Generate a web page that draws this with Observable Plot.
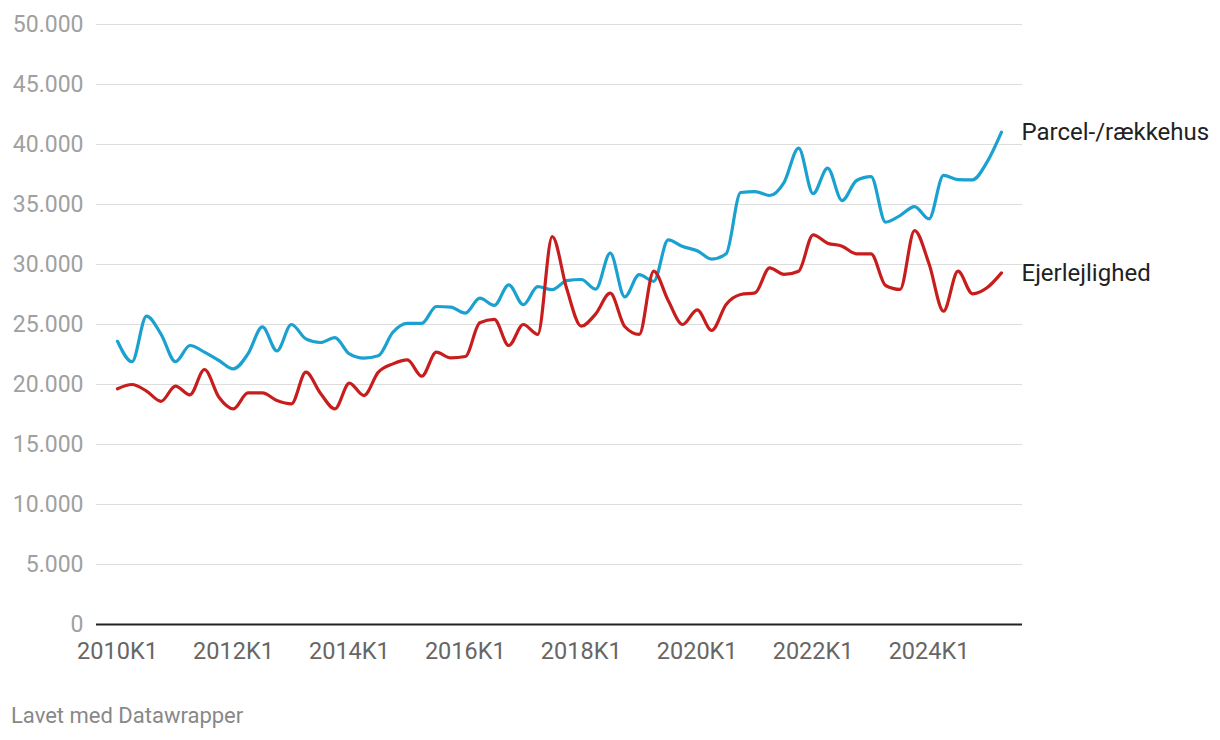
<!DOCTYPE html>
<html>
<head>
<meta charset="utf-8">
<script src="https://cdn.jsdelivr.net/npm/d3@7"></script>
<script src="https://cdn.jsdelivr.net/npm/@observablehq/plot@0.6"></script>
<style>
  body { margin: 0; background: #fff; font-family: Roboto, sans-serif; }
  #chart { position: absolute; left: 0; top: 0; }
  #footer { position: absolute; left: 11px; top: 703px; font-size: 22px; color: #888; font-family: Roboto, sans-serif; }
</style>
</head>
<body>
<div id="chart"></div>
<div id="footer">Lavet med Datawrapper</div>
<script>
const years = d3.range(2010, 2026);
const quarters = years.flatMap(y => [1, 2, 3, 4].map(q => `${y}K${q}`)).slice(0, 62);

const parcel = [23600,21900,25700,24200,21900,23250,22700,22000,21300,22550,24800,22800,25000,23800,23500,23900,22550,22200,22400,24350,25100,25100,26500,26450,25950,27200,26600,28300,26650,28150,27900,28650,28750,27950,30950,27300,29150,28600,32050,31500,31150,30450,30900,36000,36080,35750,36850,39700,35900,38030,35330,37000,37330,33530,34080,34830,33800,37420,37080,37060,38530,41030];
const ejer = [19640,20000,19450,18600,19860,19140,21250,18940,17970,19300,19300,18670,18390,21030,19280,17970,20110,19080,21030,21720,22050,20690,22690,22220,22330,25140,25420,23250,25000,24170,32330,27970,24860,25890,27610,24830,24170,29440,27000,25000,26220,24500,26670,27500,27640,29720,29170,29440,32470,31780,31530,30890,30890,28250,27920,32830,30060,26110,29440,27560,28060,29300];

const seriesNames = ["Parcel-/rækkehus", "Ejerlejlighed"];
const seriesColors = ["#1aa1cf", "#c71e1d"];
const yTicks = d3.range(0, 50001, 5000);
const xTickLabels = ["2010K1","2012K1","2014K1","2016K1","2018K1","2020K1","2022K1","2024K1"];

const data = [
  ...parcel.map((v, i) => ({i, q: quarters[i], v, s: seriesNames[0]})),
  ...ejer.map((v, i) => ({i, q: quarters[i], v, s: seriesNames[1]}))
];
const lastPoints = [
  {i: parcel.length - 1, v: parcel[parcel.length - 1], s: seriesNames[0]},
  {i: ejer.length - 1, v: ejer[ejer.length - 1], s: seriesNames[1]}
];

const dk = d3.formatLocale({decimal: ",", thousands: ".", grouping: [3], currency: ["", " kr."]});
const fmt = dk.format(",");
const xTickIdx = xTickLabels.map(l => quarters.indexOf(l));

const chart = Plot.plot({
  width: 1220,
  height: 680,
  marginTop: 24,
  marginBottom: 56,
  marginLeft: 96,
  marginRight: 198,
  style: {fontFamily: "Roboto, sans-serif", background: "#fff"},
  x: {domain: [-1.45, 62.45]},
  y: {domain: [0, 50000]},
  color: {domain: seriesNames, range: seriesColors},
  marks: [
    Plot.ruleY(yTicks.filter(d => d > 0), {stroke: "#dddddd", strokeWidth: 1}),
    Plot.axisY({ticks: yTicks, tickSize: 0, tickPadding: 3, tickFormat: fmt, textAnchor: "end", dx: -10, fontSize: 23, color: "#a0a0a0", label: null}),
    Plot.axisX({ticks: xTickIdx, tickFormat: i => quarters[i], tickSize: 0, tickPadding: 18, fontSize: 23.5, color: "#666", label: null}),
    Plot.ruleY([0], {stroke: "#222", strokeWidth: 2}),
    Plot.line(data, {x: "i", y: "v", z: "s", stroke: "s", strokeWidth: 3.2, curve: "monotone-x"}),
    Plot.text(lastPoints, {x: "i", y: "v", text: "s", textAnchor: "start", dx: 20, fontSize: 24, fill: "#222"})
  ]
});
document.getElementById("chart").appendChild(chart);
</script>
</body>
</html>
